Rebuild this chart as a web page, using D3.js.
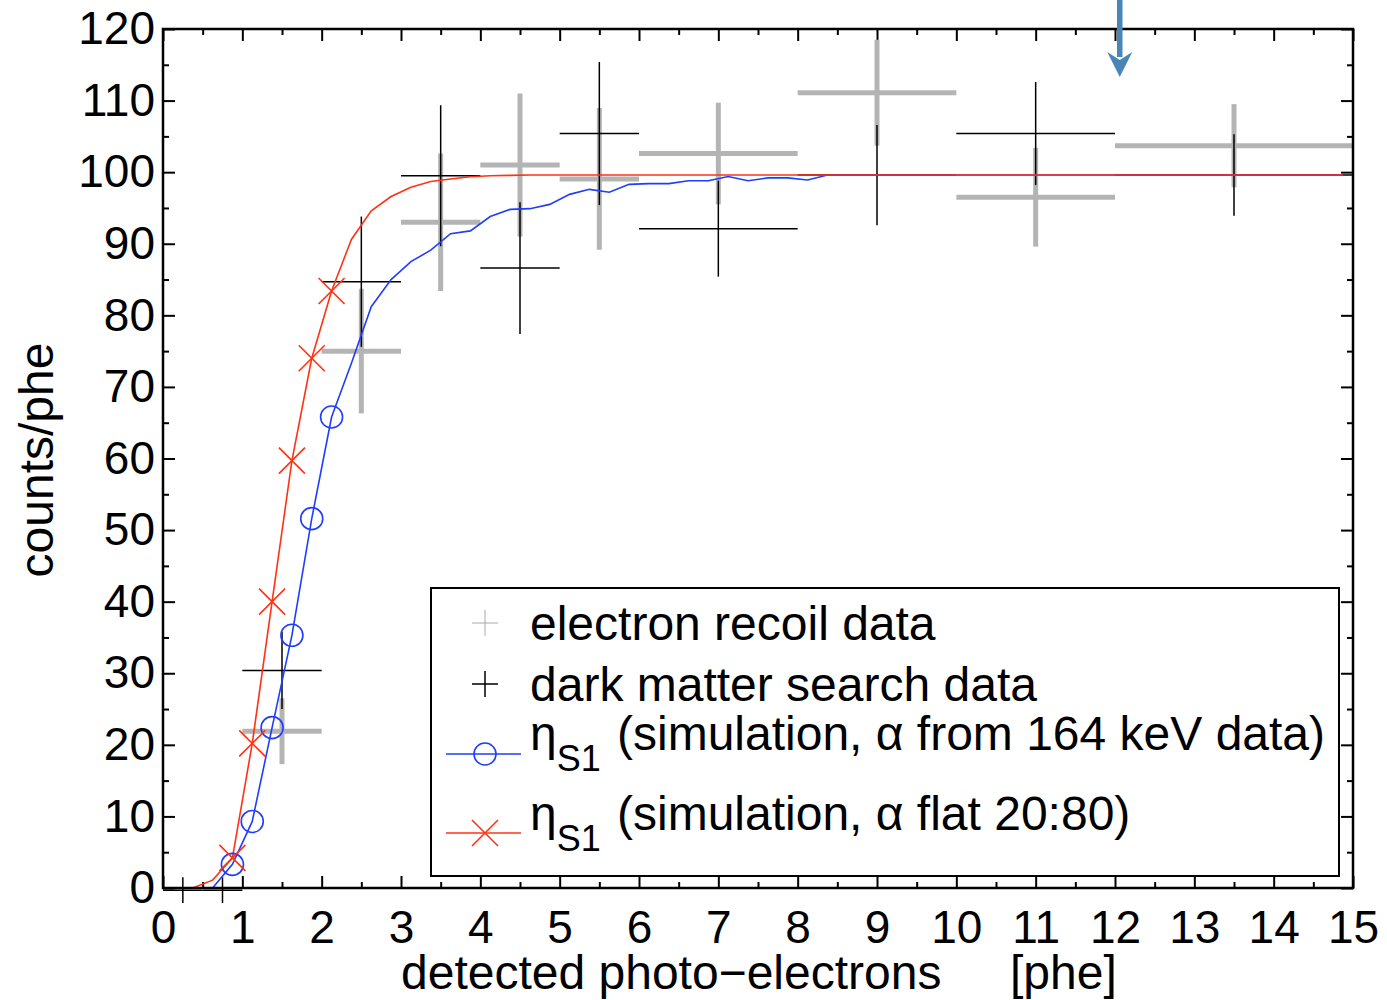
<!DOCTYPE html>
<html>
<head>
<meta charset="utf-8">
<script src="https://cdn.jsdelivr.net/npm/d3@7"></script>
<style>
  body { margin: 0; background: #fff; }
  svg { display: block; font-family: "Liberation Sans", Arial, Helvetica, sans-serif; }
</style>
</head>
<body>
<div id="chart"></div>
<script>
// electron recoil data (gray): bin edges, centre, value, error
var erLo  = [1, 2, 3, 4, 5, 6, 8, 10, 12];
var erHi  = [2, 3, 4, 5, 6, 8, 10, 12, 15];
var erX   = [1.5, 2.5, 3.5, 4.5, 5.5, 7, 9, 11, 13.5];
var erY   = [21.9, 75.0, 93.0, 101.0, 99.05, 102.6, 111.1, 96.5, 103.7];
var erErr = [4.6, 8.7, 9.6, 10.0, 9.9, 7.1, 7.4, 6.9, 5.8];

// dark matter search data (black)
var dmLo  = [0, 0.5, 1, 2, 3, 4, 5, 6, 8, 10, 12];
var dmHi  = [0.5, 1, 2, 3, 4, 5, 6, 8, 10, 12, 15];
var dmX   = [0.25, 0.75, 1.5, 2.5, 3.5, 4.5, 5.5, 7, 9, 11, 13.5];
var dmY   = [-0.3, -0.3, 30.4, 84.7, 99.5, 86.6, 105.4, 92.1, 99.6, 105.4, 99.6];
var dmErr = [1.8, 1.8, 5.4, 9.1, 9.85, 9.2, 10.0, 6.7, 7.0, 7.2, 5.7];

// simulation curves, sampled every 0.25 phe starting at 0.125
var simX = d3.range(0.125, 15, 0.25);
var blueY = [0, 0, 0, 3.3, 9.3, 22.4, 35.3, 51.6, 65.8, 73.3, 81.2, 85.0, 87.5, 89.1, 91.4, 91.8,
             93.8, 94.8, 94.9, 95.5, 96.9, 97.6, 97.2, 98.3, 98.4, 98.4, 98.8, 98.8, 99.4, 98.8,
             99.2, 99.2, 98.9, 99.6, 99.6, 99.6, 99.6, 99.6, 99.6, 99.6, 99.6, 99.6, 99.6, 99.6,
             99.6, 99.6, 99.6, 99.6, 99.6, 99.6, 99.6, 99.6, 99.6, 99.6, 99.6, 99.6, 99.6, 99.6,
             99.6, 99.6];
var redY  = [0, 0, 1.1, 4.2, 20.2, 40.0, 59.7, 74.0, 83.4, 90.6, 94.6, 96.6, 97.9, 98.7, 99.05, 99.35,
             99.5, 99.55, 99.6, 99.6, 99.6, 99.6, 99.6, 99.6, 99.6, 99.6, 99.6, 99.6, 99.6, 99.6,
             99.6, 99.6, 99.6, 99.6, 99.6, 99.6, 99.6, 99.6, 99.6, 99.6, 99.6, 99.6, 99.6, 99.6,
             99.6, 99.6, 99.6, 99.6, 99.6, 99.6, 99.6, 99.6, 99.6, 99.6, 99.6, 99.6, 99.6, 99.6,
             99.6, 99.6];
var markerIdx = [3, 4, 5, 6, 7, 8];

var xTicks = d3.range(0, 16, 1);
var yTicks = d3.range(0, 130, 10);
var arrowAt = 12.06;

var legendLabels = [
    "electron recoil data",
    "dark matter search data",
    "(simulation, \u03b1 from 164 keV data)",
    "(simulation, \u03b1 flat 20:80)"
];

var GRAY = "#b4b4b4", BLUE = "#1f3cff", RED = "#ff3214", ARROW = "#4a85b8";

var margin = {top: 29, right: 34, bottom: 112, left: 163},
    width = 1387 - margin.left - margin.right,
    height = 1000 - margin.top - margin.bottom;

var svg = d3.select("#chart").append("svg")
    .attr("width", 1387)
    .attr("height", 1000);

var g = svg.append("g")
    .attr("transform", "translate(" + margin.left + "," + margin.top + ")");

var x = d3.scaleLinear().domain([0, 15]).range([0, width]);
var y = d3.scaleLinear().domain([0, 120]).range([height, 0]);

function styleAxis(sel, withText) {
    sel.select(".domain").remove();
    sel.selectAll("line").attr("stroke", "#000").attr("stroke-width", 2);
    if (withText) {
        sel.selectAll("text").attr("font-size", 46).attr("fill", "#000")
            .attr("font-family", "Liberation Sans, Arial, Helvetica, sans-serif");
    } else {
        sel.selectAll("text").remove();
    }
}

// major + minor ticks on all four sides, pointing inward
g.append("g").attr("transform", "translate(0," + height + ")")
    .call(d3.axisBottom(x).tickValues(xTicks).tickSize(-12).tickPadding(22))
    .call(styleAxis, true);
g.append("g").attr("transform", "translate(0," + height + ")")
    .call(d3.axisBottom(x).tickValues(d3.range(0.5, 15, 1)).tickSize(-6))
    .call(styleAxis, false);
g.append("g")
    .call(d3.axisTop(x).tickValues(xTicks).tickSize(-12))
    .call(styleAxis, false);
g.append("g")
    .call(d3.axisTop(x).tickValues(d3.range(0.5, 15, 1)).tickSize(-6))
    .call(styleAxis, false);

g.append("g")
    .call(d3.axisLeft(y).tickValues(yTicks).tickSize(-12).tickPadding(8))
    .call(styleAxis, true);
g.append("g")
    .call(d3.axisLeft(y).tickValues(d3.range(5, 120, 10)).tickSize(-6))
    .call(styleAxis, false);
g.append("g").attr("transform", "translate(" + width + ",0)")
    .call(d3.axisRight(y).tickValues(yTicks).tickSize(-12))
    .call(styleAxis, false);
g.append("g").attr("transform", "translate(" + width + ",0)")
    .call(d3.axisRight(y).tickValues(d3.range(5, 120, 10)).tickSize(-6))
    .call(styleAxis, false);

// error-bar crosses
function drawCrosses(lo, hi, cx, cy, err, color, sw) {
    var grp = g.append("g").attr("stroke", color).attr("stroke-width", sw).attr("fill", "none");
    cx.forEach(function (d, i) {
        grp.append("line")
            .attr("x1", x(lo[i])).attr("x2", x(hi[i]))
            .attr("y1", y(cy[i])).attr("y2", y(cy[i]));
        grp.append("line")
            .attr("x1", x(d)).attr("x2", x(d))
            .attr("y1", y(cy[i] + err[i])).attr("y2", y(cy[i] - err[i]));
    });
}

drawCrosses(erLo, erHi, erX, erY, erErr, GRAY, 5);
drawCrosses(dmLo, dmHi, dmX, dmY, dmErr, "#000", 1.5);

// simulation lines
var line = d3.line()
    .x(function (d) { return x(d[0]); })
    .y(function (d) { return y(d[1]); });

var blueData = simX.map(function (d, i) { return [d, blueY[i]]; });
var redData = simX.map(function (d, i) { return [d, redY[i]]; });

g.append("path").attr("d", line(blueData))
    .attr("fill", "none").attr("stroke", BLUE).attr("stroke-width", 1.6);
g.append("path").attr("d", line(redData))
    .attr("fill", "none").attr("stroke", RED).attr("stroke-width", 1.6);

function xMarker(sel, cx, cy, r) {
    sel.append("path")
        .attr("d", "M" + (cx - r) + "," + (cy - r) + "L" + (cx + r) + "," + (cy + r) +
                   "M" + (cx - r) + "," + (cy + r) + "L" + (cx + r) + "," + (cy - r))
        .attr("stroke", RED).attr("stroke-width", 1.6).attr("fill", "none");
}

markerIdx.forEach(function (i) {
    g.append("circle")
        .attr("cx", x(simX[i])).attr("cy", y(blueY[i])).attr("r", 11)
        .attr("fill", "none").attr("stroke", BLUE).attr("stroke-width", 1.6);
});
markerIdx.forEach(function (i) {
    xMarker(g, x(simX[i]), y(redY[i]), 13);
});

// frame
g.append("rect")
    .attr("width", width).attr("height", height)
    .attr("fill", "none").attr("stroke", "#000").attr("stroke-width", 2.5);

// arrow marking 12 phe
var ax = x(arrowAt);
g.append("line")
    .attr("x1", ax).attr("x2", ax).attr("y1", -margin.top).attr("y2", 28)
    .attr("stroke", ARROW).attr("stroke-width", 5.5);
g.append("path")
    .attr("d", "M" + (ax - 12.5) + ",23 L" + ax + ",48 L" + (ax + 12.5) + ",23 L" + ax + ",31 Z")
    .attr("fill", ARROW);

// legend
var leg = svg.append("g");
leg.append("rect")
    .attr("x", 431).attr("y", 588).attr("width", 908).attr("height", 288)
    .attr("fill", "#fff").attr("stroke", "#000").attr("stroke-width", 2);

var symX = 485, textX = 530;
var rowY = [623, 684, 754, 833];
var baseY = [640, 701, 750, 830];

leg.append("path")
    .attr("d", "M" + (symX - 13) + "," + rowY[0] + "H" + (symX + 13) + "M" + symX + "," + (rowY[0] - 13) + "V" + (rowY[0] + 13))
    .attr("stroke", "#aaa").attr("stroke-width", 1);
leg.append("path")
    .attr("d", "M" + (symX - 13) + "," + rowY[1] + "H" + (symX + 13) + "M" + symX + "," + (rowY[1] - 13) + "V" + (rowY[1] + 13))
    .attr("stroke", "#000").attr("stroke-width", 1.5);

leg.append("line").attr("x1", 446).attr("x2", 521).attr("y1", rowY[2]).attr("y2", rowY[2])
    .attr("stroke", BLUE).attr("stroke-width", 1.6);
leg.append("circle").attr("cx", symX).attr("cy", rowY[2]).attr("r", 11)
    .attr("fill", "none").attr("stroke", BLUE).attr("stroke-width", 1.6);
leg.append("line").attr("x1", 446).attr("x2", 521).attr("y1", rowY[3]).attr("y2", rowY[3])
    .attr("stroke", RED).attr("stroke-width", 1.6);
xMarker(leg, symX, rowY[3], 13);

legendLabels.forEach(function (lab, i) {
    var t = leg.append("text").attr("x", textX).attr("y", baseY[i])
        .attr("font-size", 48).attr("fill", "#000");
    if (i < 2) {
        t.text(lab);
    } else {
        t.append("tspan").text("\u03b7");
        t.append("tspan").attr("font-size", 36).attr("dy", 21).text("S1");
        t.append("tspan").attr("x", 617).attr("dy", -21).text(lab);
    }
});

// axis titles
svg.append("text")
    .attr("x", 401).attr("y", 989)
    .attr("font-size", 48).attr("fill", "#000")
    .text("detected photo\u2212electrons");
svg.append("text")
    .attr("x", 1010).attr("y", 989)
    .attr("font-size", 48).attr("fill", "#000")
    .text("[phe]");
svg.append("text")
    .attr("transform", "translate(53,460) rotate(-90)")
    .attr("text-anchor", "middle")
    .attr("font-size", 48).attr("fill", "#000")
    .text("counts/phe");
</script>
</body>
</html>
